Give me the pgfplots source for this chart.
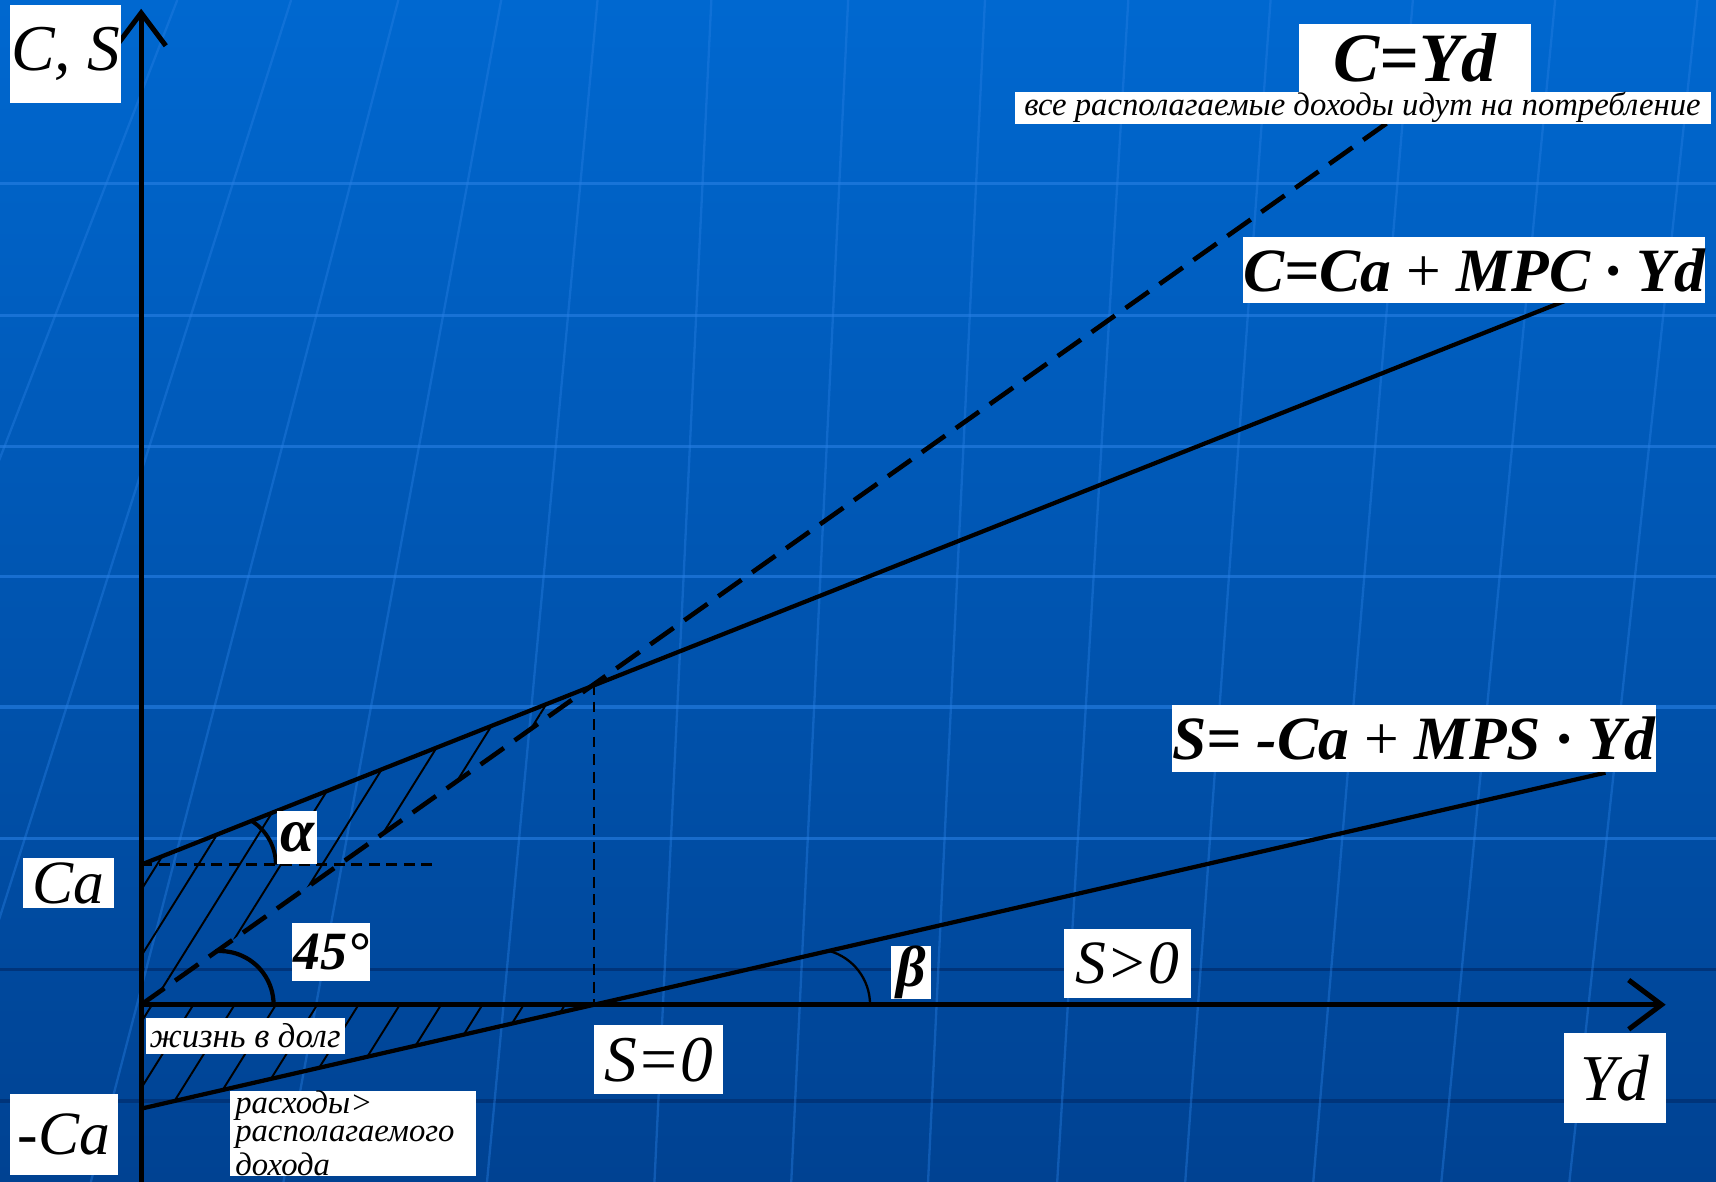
\documentclass[border=0pt]{standalone}
\usepackage{fontspec}
\setmainfont{Liberation Serif}
\usepackage{pgfplots}
\pgfplotsset{compat=1.18}
\usetikzlibrary{arrows.meta,patterns.meta}

\definecolor{bgtop}{RGB}{0,104,208}
\definecolor{bgbot}{RGB}{0,66,146}
\definecolor{gridhi}{RGB}{40,128,228}
\definecolor{gridlo}{RGB}{0,52,122}

\begin{document}
\begin{tikzpicture}[
  lbl/.style={fill=white, text=black, inner sep=0pt, font=\itshape},
  gl/.style={gridhi, line width=0.8pt, opacity=0.6},
  gv/.style={gridhi, line width=0.6pt, opacity=0.4},
]
\begin{axis}[
  scale only axis, width=15.68cm, height=10.80cm,
  xmin=-1.29, xmax=14.39, ymin=-1.62, ymax=9.18,
  axis lines=none, ticks=none,
]
% background
\shade[top color=bgtop, bottom color=bgbot] (axis cs:-1.29,-1.62) rectangle (axis cs:14.39,9.18);
\draw[gl] (axis cs:-1.29,7.50) -- (axis cs:14.39,7.50);
\draw[gl] (axis cs:-1.29,6.30) -- (axis cs:14.39,6.30);
\draw[gl] (axis cs:-1.29,5.10) -- (axis cs:14.39,5.10);
\draw[gl] (axis cs:-1.29,3.91) -- (axis cs:14.39,3.91);
\draw[gl] (axis cs:-1.29,2.72) -- (axis cs:14.39,2.72);
\draw[gl] (axis cs:-1.29,1.52) -- (axis cs:14.39,1.52);
\draw[gridlo, line width=0.8pt] (axis cs:-1.29,0.32) -- (axis cs:14.39,0.32);
\draw[gridlo, line width=0.8pt] (axis cs:-1.29,-0.88) -- (axis cs:14.39,-0.88);
% faint meridians (bottom x, top x)
\draw[gv] (axis cs:-3.85,-1.62) -- (axis cs:0.33,9.18);
\draw[gv] (axis cs:-2.06,-1.62) -- (axis cs:1.37,9.18);
\draw[gv] (axis cs:-0.46,-1.62) -- (axis cs:2.35,9.18);
\draw[gv] (axis cs:1.30,-1.62) -- (axis cs:3.29,9.18);
\draw[gv] (axis cs:3.16,-1.62) -- (axis cs:4.17,9.18);
\draw[gv] (axis cs:4.69,-1.62) -- (axis cs:5.21,9.18);
\draw[gv] (axis cs:5.94,-1.62) -- (axis cs:6.46,9.18);
\draw[gv] (axis cs:7.19,-1.62) -- (axis cs:7.71,9.18);
\draw[gv] (axis cs:8.37,-1.62) -- (axis cs:9.02,9.18);
\draw[gv] (axis cs:9.54,-1.62) -- (axis cs:10.32,9.18);
\draw[gv] (axis cs:10.71,-1.62) -- (axis cs:11.62,9.18);
\draw[gv] (axis cs:11.88,-1.62) -- (axis cs:12.92,9.18);
\draw[gv] (axis cs:13.05,-1.62) -- (axis cs:14.22,9.18);

% hatched areas
\addplot[draw=none, pattern={Lines[angle=58, distance=0.32cm, line width=0.5pt]}]
  coordinates {(0,0) (0,1.28) (4.14,2.93)} --cycle;
\addplot[draw=none, pattern={Lines[angle=58, distance=0.32cm, line width=0.5pt]}]
  coordinates {(0,0) (0,-0.95) (4.14,0)} --cycle;

% guide lines
\addplot[black, line width=0.6pt, dash pattern=on 0.1cm off 0.06cm] coordinates {(4.14,2.93) (4.14,0)};
\addplot[black, line width=0.6pt, dash pattern=on 0.1cm off 0.06cm] coordinates {(0,1.28) (2.66,1.28)};

% C = Yd
\addplot[black, line width=1.2pt, dash pattern=on 0.26cm off 0.12cm] coordinates {(0,0) (11.39,8.06)};
% C = Ca + MPC*Yd
\addplot[black, line width=1.1pt] coordinates {(0,1.28) (13.21,6.51)};
% S = -Ca + MPS*Yd
\addplot[black, line width=1.1pt] coordinates {(0,-0.95) (13.38,2.12)};

% axes
\addplot[black, line width=1.3pt, -{Straight Barb[length=0.3cm, width=0.45cm]}] coordinates {(0,0) (13.93,0)};
\addplot[black, line width=1.3pt, -{Straight Barb[length=0.3cm, width=0.45cm]}] coordinates {(0,-1.62) (0,9.10)};

% angle arcs
\draw[black, line width=1pt] (axis cs:0.76,1.28) ++(58:0.47cm) arc[start angle=58, end angle=0, radius=0.47cm];
\draw[black, line width=1.1pt] (axis cs:0.72,0) ++(95:0.49cm) arc[start angle=95, end angle=0, radius=0.49cm];
\draw[black, line width=0.6pt] (axis cs:6.15,0) ++(75:0.51cm) arc[start angle=75, end angle=0, radius=0.51cm];

% labels
\node[lbl, minimum width=1.02cm, minimum height=0.89cm] at (axis cs:-0.69,8.685) {\fontsize{17}{17}\selectfont C, S};
\node[lbl, minimum width=6.36cm, minimum height=0.29cm] at (axis cs:11.16,8.195) {\fontsize{8.5}{8.5}\selectfont все располагаемые доходы идут на потребление};
\node[lbl, minimum width=2.12cm, minimum height=0.62cm] at (axis cs:11.64,8.65) {\fontsize{18}{18}\selectfont\bfseries C=Yd};
\node[lbl, minimum width=4.22cm, minimum height=0.60cm] at (axis cs:12.18,6.71) {\fontsize{16}{16}\selectfont\bfseries C=Ca {\mdseries\upshape +} MPC · Yd};
\node[lbl, minimum width=4.28cm, minimum height=0.61cm] at (axis cs:11.63,2.435) {\fontsize{16}{16}\selectfont\bfseries S= -Ca {\mdseries\upshape +} MPS · Yd};
\node[lbl, minimum width=0.37cm, minimum height=0.48cm] at (axis cs:1.425,1.53) {\fontsize{16}{16}\selectfont\bfseries α};
\node[lbl, minimum width=0.83cm, minimum height=0.46cm] at (axis cs:-0.665,1.11) {\fontsize{16}{16}\selectfont Ca};
\node[lbl, minimum width=0.71cm, minimum height=0.53cm] at (axis cs:1.735,0.485) {\fontsize{14}{14}\selectfont\bfseries 45°};
\node[lbl, minimum width=0.37cm, minimum height=0.47cm] at (axis cs:7.035,0.295) {\fontsize{15}{15}\selectfont\bfseries β};
\node[lbl, minimum width=1.16cm, minimum height=0.63cm] at (axis cs:9.01,0.375) {\fontsize{16}{16}\selectfont S>0};
\node[lbl, minimum width=1.82cm, minimum height=0.33cm] at (axis cs:0.95,-0.285) {\fontsize{9}{9}\selectfont жизнь в долг};
\node[lbl, minimum width=1.18cm, minimum height=0.63cm] at (axis cs:4.73,-0.505) {\fontsize{17}{17}\selectfont S=0};
\node[lbl, minimum width=0.93cm, minimum height=0.82cm] at (axis cs:13.465,-0.67) {\fontsize{17}{17}\selectfont Yd};
\node[lbl, minimum width=0.99cm, minimum height=0.74cm] at (axis cs:-0.705,-1.19) {\fontsize{16}{16}\selectfont -Ca};
\node[lbl, font=\itshape\fontsize{8.5}{7.4}\selectfont, minimum width=2.25cm, minimum height=0.77cm, text width=2.15cm, align=left] at (axis cs:1.935,-1.175) {расходы>\\располагаемого\\дохода};
\end{axis}
\end{tikzpicture}
\end{document}
